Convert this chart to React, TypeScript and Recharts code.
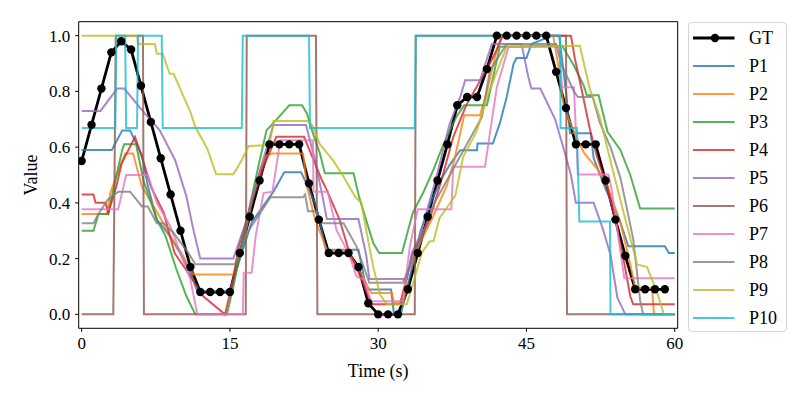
import { LineChart, Line, XAxis, YAxis, ReferenceArea, Legend } from 'recharts';

type Pt = [number, number];

const FONT = '"Liberation Serif", "Times New Roman", serif';

// ground truth, one value per second (t = 0..59)
const gtValues = [
  0.55, 0.68, 0.81, 0.94, 0.98, 0.95, 0.82, 0.69, 0.56, 0.43,
  0.3, 0.17, 0.08, 0.08, 0.08, 0.08, 0.22, 0.35, 0.48, 0.61,
  0.61, 0.61, 0.61, 0.47, 0.34, 0.22, 0.22, 0.22, 0.17, 0.04,
  0.0, 0.0, 0.0, 0.09, 0.22, 0.35, 0.48, 0.61, 0.75, 0.78,
  0.78, 0.88, 1.0, 1.0, 1.0, 1.0, 1.0, 1.0, 0.87, 0.74,
  0.61, 0.61, 0.61, 0.48, 0.34, 0.21, 0.09, 0.09, 0.09, 0.09,
];

// predictions, read as [time, value] breakpoints
const p1: Pt[] = [
  [0, 0.59], [3.05, 0.59], [4.1, 0.66], [4.9, 0.66], [6.1, 0.57], [6.7, 0.46], [7.6, 0.34],
  [8.95, 0.28], [9.95, 0.22], [11, 0.15], [11.7, 0.083], [15, 0.083], [16.2, 0.22], [17.2, 0.33],
  [18.2, 0.38], [19.4, 0.44], [20.5, 0.51], [22.2, 0.51], [22.6, 0.48], [23.7, 0.39], [24.3, 0.3],
  [24.7, 0.232], [28, 0.232], [28.8, 0.089], [31.3, 0.089], [31.6, 0], [32.3, 0], [33.3, 0.15],
  [34.3, 0.3], [35.3, 0.4], [36.3, 0.48], [37.3, 0.54], [38.3, 0.589], [40, 0.589], [40.05, 0.613],
  [41.6, 0.613], [42.3, 0.685], [43, 0.78], [43.7, 0.9], [44, 0.92], [45, 0.92], [45.5, 0.97],
  [47.6, 1.0], [48.3, 1.0], [49, 0.8], [49.4, 0.65], [51.5, 0.65], [51.8, 0.56], [53, 0.45],
  [54.5, 0.33], [55.3, 0.244], [59, 0.244], [59.4, 0.22], [60, 0.22],
];
const p2: Pt[] = [
  [0, 0.36], [2.55, 0.36], [2.9, 0.435], [3.55, 0.5], [4.4, 0.577], [5.2, 0.577], [6.1, 0.458],
  [7.7, 0.363], [8.95, 0.28], [10.1, 0.22], [11.3, 0.143], [15.35, 0.143], [16.5, 0.28], [17.6, 0.47],
  [18.7, 0.571], [19.3, 0.577], [22.4, 0.577], [22.8, 0.458], [23.6, 0.342], [24.8, 0.232],
  [26.9, 0.23], [28.2, 0.149], [29.3, 0.077], [31.4, 0.077], [31.6, 0.04], [32.5, 0.04], [33, 0.15],
  [34.3, 0.26], [35.4, 0.339], [36.9, 0.458], [37.7, 0.554], [38.7, 0.714], [40.3, 0.714],
  [41, 0.8], [42, 0.95], [42.5, 1.0], [47.7, 1.0], [48.3, 0.875], [48.8, 0.74], [50, 0.64],
  [50.8, 0.58], [52.2, 0.52], [53.1, 0.47], [54.5, 0.33], [55.5, 0.18], [56, 0.095], [57.7, 0.095],
  [57.9, 0], [60, 0],
];
const p3: Pt[] = [
  [0, 0.3], [1.2, 0.3], [1.7, 0.36], [2.7, 0.36], [3.4, 0.48], [4.1, 0.59], [4.3, 0.61], [5.5, 0.61],
  [6.25, 0.48], [7.6, 0.34], [8.5, 0.28], [9.6, 0.16], [10.6, 0.065], [11.5, 0], [14.7, 0],
  [15.35, 0.1], [16.7, 0.34], [18, 0.55], [18.7, 0.66], [20.1, 0.714], [21, 0.75], [22.3, 0.75],
  [22.8, 0.72], [23.3, 0.66], [24.1, 0.578], [24.6, 0.506], [27.5, 0.506], [28.1, 0.417],
  [29.5, 0.256], [30.1, 0.22], [32.4, 0.22], [33.5, 0.364], [34.6, 0.44], [35.6, 0.52], [36.6, 0.61],
  [37.9, 0.708], [38.7, 0.75], [41, 0.75], [42.3, 0.96], [48.6, 0.964], [49.8, 0.893], [50.8, 0.82],
  [51.1, 0.786], [52.3, 0.786], [53.2, 0.655], [54.5, 0.59], [55.5, 0.5], [56.5, 0.38], [60, 0.38],
];
const p4: Pt[] = [
  [0, 0.43], [1.2, 0.43], [1.4, 0.4], [2.4, 0.4], [2.7, 0.365], [3.5, 0.458], [4.05, 0.542],
  [5.4, 0.637], [6.3, 0.542], [7, 0.458], [8.3, 0.365], [9.4, 0.22], [11, 0.137], [12.3, 0.065],
  [14.5, 0], [15.3, 0.12], [15.9, 0.244], [17.1, 0.39], [18.4, 0.53], [19.7, 0.637], [22.5, 0.637],
  [24.3, 0.482], [24.8, 0.446], [26.1, 0.339], [27.1, 0.22], [28.2, 0.137], [29.3, 0.036],
  [32.2, 0.036], [33.5, 0.22], [35.2, 0.339], [36.4, 0.482], [37.6, 0.637], [38.9, 0.75],
  [41.3, 0.9], [42, 0.95], [42.6, 1.0], [49.5, 1.0], [49.9, 0.917], [50.5, 0.82], [51.4, 0.667],
  [52.1, 0.57], [53.1, 0.464], [54.1, 0.321], [54.8, 0.202], [55.5, 0.065], [55.8, 0.036], [60, 0.036],
];
const p5: Pt[] = [
  [0, 0.73], [1.9, 0.73], [3.6, 0.81], [4.3, 0.81], [6.4, 0.72], [7.9, 0.66], [9.45, 0.554],
  [10.6, 0.423], [11.3, 0.304], [12, 0.2], [15.35, 0.2], [16.7, 0.339], [18.05, 0.518], [19.4, 0.679],
  [22.7, 0.679], [23.6, 0.554], [24.3, 0.435], [24.8, 0.342], [28, 0.342], [28.8, 0.21], [29.1, 0.127],
  [32.9, 0.127], [33.4, 0.22], [34.2, 0.28], [35.9, 0.494], [37.2, 0.68], [38.3, 0.78], [38.8, 0.84],
  [40.3, 0.84], [41.5, 0.97], [44.5, 0.97], [45.2, 0.85], [45.5, 0.81], [46.4, 0.81], [47.9, 0.7],
  [48.8, 0.59], [49.5, 0.5], [50, 0.4], [51.8, 0.4], [52.7, 0.31], [53.5, 0.214], [54.2, 0.06],
  [55, 0], [60, 0],
];
const p6: Pt[] = [
  [0, 0], [3.2, 0], [3.45, 1], [6.2, 1], [6.3, 0], [16.6, 0], [16.7, 1], [23.7, 1], [23.85, 0],
  [33.7, 0], [33.8, 1], [49, 1], [49.1, 0], [60, 0],
];
const p7: Pt[] = [
  [0, 0.377], [3.7, 0.377], [4.5, 0.5], [6.7, 0.5], [7.6, 0.4], [8.95, 0.317], [10.1, 0.21],
  [11, 0.125], [11.7, 0], [16.3, 0], [16.4, 0.149], [17.2, 0.149], [17.6, 0.28], [18.4, 0.435],
  [19.3, 0.44], [20.1, 0.625], [23.4, 0.625], [23.45, 0.44], [24.9, 0.44], [25.8, 0.3], [27, 0.22],
  [27.8, 0.137], [28.5, 0.125], [29.3, 0.047], [32.5, 0.047], [33.2, 0.244], [34, 0.377],
  [37.4, 0.377], [37.6, 0.53], [40.8, 0.53], [42, 0.815], [43.2, 0.96], [48.3, 0.96], [48.6, 0.815],
  [49.8, 0.815], [50.2, 0.502], [53.3, 0.502], [53.6, 0.45], [54.9, 0.13], [60, 0.13],
];
const p8: Pt[] = [
  [0, 0.327], [1.2, 0.327], [1.7, 0.36], [2.6, 0.41], [3.7, 0.44], [4.9, 0.44], [6.1, 0.387],
  [6.7, 0.387], [7.6, 0.327], [8.3, 0.327], [9.3, 0.292], [10.8, 0.22], [11.5, 0.18], [15.5, 0.18],
  [16.7, 0.29], [18, 0.36], [19.1, 0.42], [22.4, 0.42], [22.6, 0.43], [22.9, 0.37], [23.7, 0.37],
  [24.1, 0.327], [26.5, 0.327], [27.8, 0.244], [29.1, 0.113], [32.5, 0.113], [33.5, 0.2],
  [35.7, 0.4], [37.9, 0.542], [40.5, 0.708], [41.3, 0.875], [43, 0.97], [48, 0.97], [48.5, 0.9],
  [49.8, 0.8], [50.2, 0.78], [51.7, 0.78], [52.4, 0.69], [53.5, 0.6], [54.5, 0.49], [55.1, 0.39],
  [55.8, 0.27], [56.5, 0.05], [56.8, 0], [60, 0],
];
const p9: Pt[] = [
  [0, 1], [5.6, 1], [5.7, 0.97], [7.4, 0.97], [7.6, 0.935], [8.2, 0.935], [8.9, 0.863], [9.3, 0.863],
  [11, 0.726], [11.5, 0.672], [12.7, 0.595], [13.6, 0.503], [15.35, 0.503], [16.2, 0.554],
  [16.9, 0.604], [19, 0.607], [19.4, 0.694], [22.8, 0.694], [23.3, 0.68], [24.1, 0.61], [25.4, 0.554],
  [26.5, 0.494], [27.7, 0.42], [28.3, 0.4], [28.8, 0.3], [29.5, 0.17], [30.2, 0.07], [30.9, 0.036],
  [32.9, 0.036], [33.6, 0.12], [34.4, 0.22], [35.2, 0.262], [35.6, 0.262], [36.2, 0.345],
  [37.8, 0.426], [38.6, 0.565], [40, 0.66], [41, 0.78], [42, 0.87], [43, 0.96], [50.4, 0.964],
  [51.4, 0.81], [52.4, 0.71], [53.6, 0.536], [54.8, 0.369], [56.2, 0.179], [57.2, 0.17],
  [58.2, 0.08], [58.9, 0], [60, 0],
];
const p10: Pt[] = [
  [0, 0.669], [3.4, 0.669], [3.5, 1], [4.4, 1], [4.5, 0.669], [5.6, 0.669], [5.7, 1], [8.1, 1],
  [8.2, 0.669], [16.2, 0.669], [16.3, 1], [23, 1], [23.1, 0.669], [33.7, 0.669], [33.8, 1],
  [48.4, 1], [48.45, 0.669], [50.1, 0.669], [50.35, 0.333], [53.45, 0.333], [53.5, 0], [60, 0],
];

const xTicks = [0, 15, 30, 45, 60];
const yTicks = [0, 0.2, 0.4, 0.6, 0.8, 1.0];

const SERIES = [
  { name: 'P1', color: '#1f77b4', points: p1 },
  { name: 'P2', color: '#ff7f0e', points: p2 },
  { name: 'P3', color: '#2ca02c', points: p3 },
  { name: 'P4', color: '#d62728', points: p4 },
  { name: 'P5', color: '#9467bd', points: p5 },
  { name: 'P6', color: '#8c564b', points: p6 },
  { name: 'P7', color: '#e377c2', points: p7 },
  { name: 'P8', color: '#7f7f7f', points: p8 },
  { name: 'P9', color: '#bcbd22', points: p9 },
  { name: 'P10', color: '#17becf', points: p10 },
];

const gtData = gtValues.map((v, i) => ({ t: i, v }));

const YTitle = ({ viewBox }: any) => {
  const cx = viewBox.x + 12.5;
  const cy = viewBox.y + viewBox.height / 2;
  return (
    <text x={cx} y={cy} transform={`rotate(-90 ${cx} ${cy})`} textAnchor="middle"
      dominantBaseline="central" fill="#000" fontSize={18} fontFamily={FONT}>
      Value
    </text>
  );
};

const renderLegend = () => (
  <div style={{
    width: 99, height: 310, boxSizing: 'border-box', border: '1px solid #d4d4d4',
    borderRadius: 4, background: '#fff', paddingTop: 0.5, fontFamily: FONT,
  }}>
    {[{ name: 'GT', color: '#000' }, ...SERIES].map((s) => (
      <div key={s.name} style={{ position: 'relative', height: 28 }}>
        <svg width={50} height={28} style={{ position: 'absolute', left: 0, top: 0 }}>
          <line x1={4} x2={45.5} y1={14} y2={14} stroke={s.color}
            strokeWidth={s.name === 'GT' ? 2.8 : 2} strokeOpacity={s.name === 'GT' ? 1 : 0.8} />
          {s.name === 'GT' && <circle cx={26} cy={14} r={4.2} fill="#000" />}
        </svg>
        <span style={{ position: 'absolute', left: 60, top: 2, fontSize: 18, lineHeight: '24px', color: '#000' }}>
          {s.name}
        </span>
      </div>
    ))}
  </div>
);

export default function App() {
  return (
    <div style={{ position: 'absolute', left: 0, top: 0, width: 800, height: 400, background: '#fff' }}>
      <LineChart width={800} height={400} margin={{ top: 21.7, right: 122.3, bottom: 41.7, left: 18.7 }}>
        <XAxis
          type="number"
          dataKey="t"
          domain={[-0.3, 60.3]}
          ticks={xTicks}
          allowDataOverflow
          height={30}
          axisLine={false}
          tickSize={3.5}
          tickMargin={5}
          tickLine={{ stroke: '#000' }}
          tick={{ fill: '#000', fontSize: 17, fontFamily: FONT }}
          label={{ value: 'Time (s)', position: 'bottom', offset: 6, fill: '#000', fontSize: 18, fontFamily: FONT }}
        />
        <YAxis
          type="number"
          domain={[-0.05, 1.05]}
          ticks={yTicks}
          allowDataOverflow
          width={60}
          axisLine={false}
          tickSize={3.5}
          tickMargin={5}
          tickLine={{ stroke: '#000' }}
          tickFormatter={(v: number) => v.toFixed(1)}
          tick={{ fill: '#000', fontSize: 17, fontFamily: FONT }}
          label={<YTitle />}
        />
        <Legend
          layout="vertical"
          align="center"
          verticalAlign="middle"
          content={renderLegend}
          wrapperStyle={{ left: 688, top: 22, width: 99, height: 310 }}
        />
        <Line
          data={gtData}
          dataKey="v"
          name="GT"
          stroke="#000"
          strokeWidth={2.8}
          dot={{ r: 4.2, fill: '#000', stroke: '#000', strokeWidth: 0 }}
          activeDot={false}
          isAnimationActive={false}
        />
        {SERIES.map((s) => (
          <Line
            key={s.name}
            data={s.points.map(([t, v]) => ({ t, v }))}
            dataKey="v"
            name={s.name}
            stroke={s.color}
            strokeOpacity={0.8}
            strokeWidth={2}
            dot={false}
            activeDot={false}
            isAnimationActive={false}
          />
        ))}
        <ReferenceArea x1={-0.3} x2={60.3} y1={-0.05} y2={1.05} fill="none" stroke="#000" strokeWidth={1} ifOverflow="visible" />
      </LineChart>
    </div>
  );
}
